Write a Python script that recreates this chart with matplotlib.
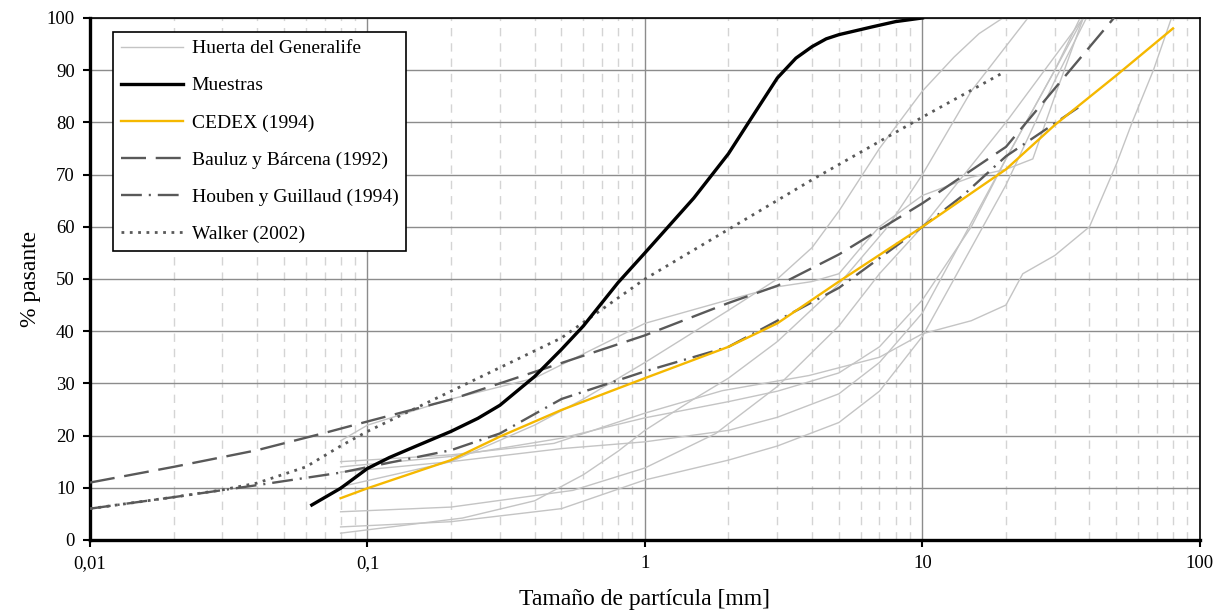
import matplotlib
matplotlib.use('Agg')
import matplotlib.pyplot as plt
from matplotlib.ticker import FixedLocator, FixedFormatter, NullFormatter

plt.rcParams['font.family'] = ['Liberation Serif', 'DejaVu Serif']
plt.rcParams['lines.scale_dashes'] = False

# Huerta del Generalife samples (sieve size mm, % passing)
huerta = [
    ([0.08, 0.1, 0.2, 0.4, 1, 2, 3, 4, 5, 6, 7, 10, 15, 20, 25, 30, 38],
     [19, 22, 27, 31, 41.5, 46, 48.5, 49.5, 51, 56, 60, 66, 69.5, 71, 73, 85, 100]),
    ([0.08, 0.2, 0.4, 0.6, 1, 2, 3, 4, 5, 7, 10, 13, 16, 19.5],
     [10.2, 15, 22, 27, 34, 44, 50, 56, 63, 75, 86, 92.5, 97, 100]),
    ([0.08, 0.2, 0.47, 1, 1.9, 3.9, 7, 10, 15, 20, 23, 30, 40, 50, 57, 68, 79],
     [15, 16.3, 18.5, 24.3, 28.6, 31.5, 35, 39.5, 42, 45, 51, 54.5, 60, 72, 80, 90, 100]),
    ([0.08, 0.2, 0.5, 1, 2, 3, 5, 7, 10, 15, 20, 30, 38],
     [14, 16, 19.5, 23.4, 26.5, 28.5, 32, 37, 46, 60, 73, 90, 100]),
    ([0.08, 0.2, 0.5, 1, 2, 3, 5, 7, 10, 20, 30, 37],
     [13, 15, 17.5, 18.8, 21, 23.5, 28, 34, 43.5, 73, 90, 100]),
    ([0.08, 0.2, 0.55, 1, 1.8, 3, 5, 7, 10, 20, 38],
     [5.4, 6.3, 9.5, 13.8, 20.4, 29.4, 41, 51, 60, 80, 100]),
    ([0.08, 0.22, 0.4, 0.6, 0.8, 1, 1.5, 2, 3, 5, 7.5, 10, 15, 24],
     [1.3, 4.2, 7.5, 12.5, 17, 21, 27, 31, 38, 49, 60, 70, 86, 100]),
    ([0.08, 0.2, 0.5, 1, 2, 3, 5, 7, 10, 20, 30, 39],
     [2.5, 3.5, 6, 11.5, 15.3, 18, 22.5, 28.5, 39, 68, 88, 100]),
]

muestras_x = [0.063, 0.08, 0.1, 0.12, 0.15, 0.2, 0.25, 0.3, 0.4, 0.5, 0.6, 0.8, 1,
              1.5, 2, 2.5, 3, 3.5, 4, 4.5, 5, 6.6, 8, 10]
muestras_y = [6.7, 9.9, 13.7, 15.8, 18, 20.8, 23.3, 25.8, 31.3, 36.5, 41, 49.3, 55,
              65.5, 74, 82, 88.5, 92.3, 94.5, 96, 96.8, 98.3, 99.3, 100]

cedex_x = [0.08, 0.1, 0.2, 0.3, 0.5, 1, 2, 3, 5, 10, 20, 30, 50, 80]
cedex_y = [8, 9.9, 15.3, 19.8, 24.9, 31, 37, 41.5, 49.5, 60, 71, 79.5, 89, 98]

bauluz_x = [0.01, 0.02, 0.04, 0.07, 0.1, 0.2, 0.5, 1, 2, 3, 5, 10, 20, 30, 49]
bauluz_y = [11, 14, 17.2, 20.5, 22.7, 26.9, 33.9, 39.2, 45.4, 48.7, 54.7, 64.5, 75.3, 86.5, 100]

houben_x = [0.01, 0.02, 0.04, 0.08, 0.2, 0.3, 0.5, 1, 2, 3, 5, 10, 14, 20, 38]
houben_y = [6, 8.2, 10.5, 12.9, 17.2, 20.4, 27, 32.3, 37, 42, 48.3, 60, 66, 73.5, 83.5]

walker_x = [0.01, 0.02, 0.03, 0.04, 0.06, 0.08, 0.1, 0.2, 0.5, 1, 2, 4, 10, 19.5]
walker_y = [6, 8.2, 9.6, 10.9, 14, 18, 20.8, 28.5, 38.7, 50, 59.5, 69, 81, 89.5]

xticks = [0.01, 0.1, 1, 10, 100]
xticklabels = ['0,01', '0,1', '1', '10', '100']

fig = plt.figure(figsize=(12.23, 6.15), dpi=100)
ax = fig.add_axes([0.0736, 0.122, 0.9075, 0.8488])

for i, (hx, hy) in enumerate(huerta):
    ax.plot(hx, hy, color='#c4c4c4', lw=1.0,
            label='Huerta del Generalife' if i == 0 else None, zorder=2)

ax.plot(bauluz_x, bauluz_y, color='#595959', lw=1.7, dashes=(18, 7),
        label='Bauluz y Bárcena (1992)', zorder=3)
ax.plot(houben_x, houben_y, color='#595959', lw=1.7, dashes=(15, 5, 1.5, 5),
        label='Houben y Guillaud (1994)', zorder=3)
ax.plot(walker_x, walker_y, color='#595959', lw=2.0, dashes=(2, 4),
        label='Walker (2002)', zorder=3)
ax.plot(cedex_x, cedex_y, color='#f5b800', lw=1.7, label='CEDEX (1994)', zorder=4)
ax.plot(muestras_x, muestras_y, color='black', lw=2.4, label='Muestras', zorder=5)

ax.set_xscale('log')
ax.set_xlim(0.01, 100)
ax.set_ylim(0, 100)
ax.xaxis.set_major_locator(FixedLocator(xticks))
ax.xaxis.set_major_formatter(FixedFormatter(xticklabels))
minors = [m * 10.0 ** e for e in range(-2, 2) for m in range(2, 10)]
ax.xaxis.set_minor_locator(FixedLocator(minors))
ax.xaxis.set_minor_formatter(NullFormatter())
ax.set_yticks(range(0, 101, 10))

ax.grid(which='major', axis='both', color='#8c8c8c', lw=1.0, zorder=0)
ax.grid(which='minor', axis='x', color='#d4d4d4', lw=1.0, dashes=(6, 5), zorder=0)
ax.set_axisbelow(True)

ax.tick_params(which='major', direction='out', length=5, width=1.5, labelsize=13.5, pad=6)
ax.tick_params(which='minor', length=0)
for side in ['left', 'bottom']:
    ax.spines[side].set_linewidth(2.4)
for side in ['top', 'right']:
    ax.spines[side].set_linewidth(1.2)

ax.set_xlabel('Tamaño de partícula [mm]', fontsize=17, labelpad=12)
ax.set_ylabel('% pasante', fontsize=17, labelpad=4)

h, l = ax.get_legend_handles_labels()
order = ['Huerta del Generalife', 'Muestras', 'CEDEX (1994)',
         'Bauluz y Bárcena (1992)', 'Houben y Guillaud (1994)', 'Walker (2002)']
hl = dict(zip(l, h))
leg = ax.legend([hl[k] for k in order], order, loc='upper left',
                bbox_to_anchor=(0.0207, 0.973), borderaxespad=0, fontsize=14,
                fancybox=False, framealpha=1, edgecolor='black',
                handlelength=3.2, labelspacing=1.0, borderpad=0.4, handletextpad=0.45)
leg.get_frame().set_linewidth(1.2)

fig.savefig('out.png', dpi=100)
